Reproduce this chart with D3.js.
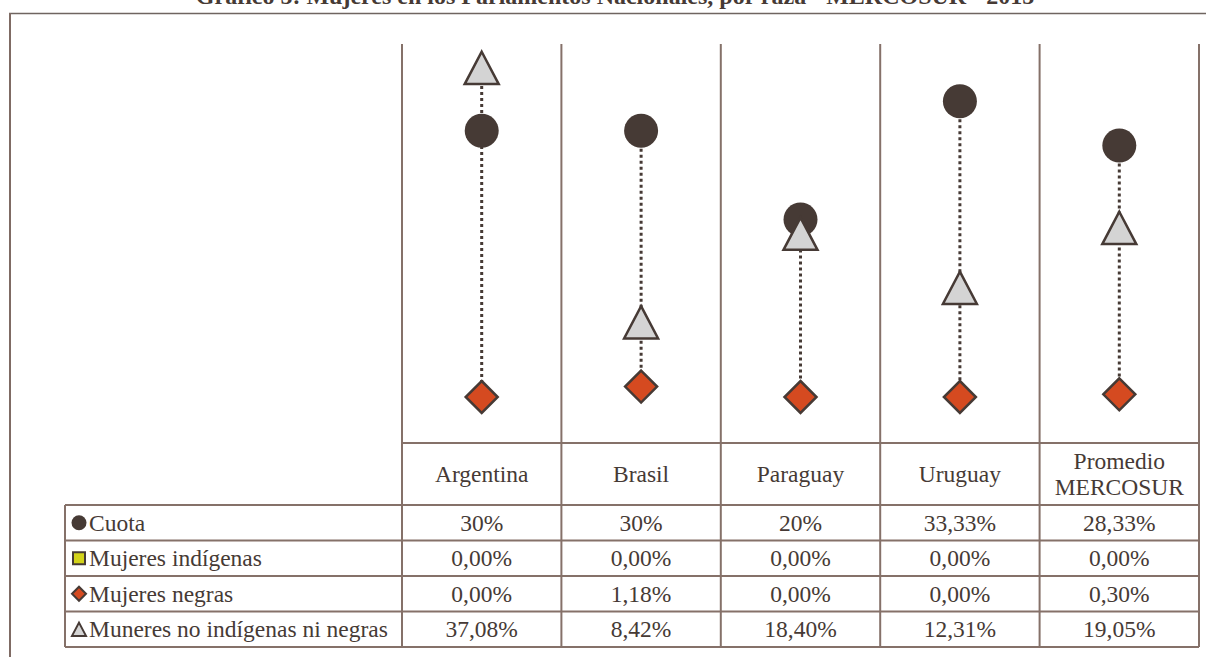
<!DOCTYPE html>
<html>
<head>
<meta charset="utf-8">
<script src="https://cdn.jsdelivr.net/npm/d3@7"></script>
<style>
  body { margin: 0; background: #fff; }
</style>
</head>
<body>
<div id="chart"></div>
<script>
  "use strict";

  // categories and series (percent)
  var countries = ["Argentina", "Brasil", "Paraguay", "Uruguay", "Promedio MERCOSUR"];
  var cuota = [30, 30, 20, 33.33, 28.33];
  var indigenas = [0, 0, 0, 0, 0];
  var negras = [0, 1.18, 0, 0, 0.30];
  var noIndNiNeg = [37.08, 8.42, 18.40, 12.31, 19.05];

  // table labels as printed
  var cuotaLabels = ["30%", "30%", "20%", "33,33%", "28,33%"];
  var indigenasLabels = ["0,00%", "0,00%", "0,00%", "0,00%", "0,00%"];
  var negrasLabels = ["0,00%", "1,18%", "0,00%", "0,00%", "0,30%"];
  var noIndNiNegLabels = ["37,08%", "8,42%", "18,40%", "12,31%", "19,05%"];

  var width = 1206, height = 657;
  var dark = "#463a35", grid = "#857169";
  var serif = "'Liberation Serif', 'Times New Roman', Tinos, serif";
  var fs = "23.5px";

  var svg = d3.select("#chart").append("svg")
      .attr("width", width).attr("height", height);

  function label(xx, yy, txt, anchor) {
    return svg.append("text")
        .attr("x", xx).attr("y", yy).attr("dy", "0.35em")
        .attr("text-anchor", anchor || "middle")
        .attr("font-family", serif).attr("font-size", fs)
        .attr("fill", dark)
        .text(txt);
  }

  // title, cut by the page top as in the source
  svg.append("text")
      .attr("x", 615).attr("y", 4)
      .attr("text-anchor", "middle")
      .attr("font-family", serif).attr("font-weight", "bold").attr("font-size", "24px")
      .attr("fill", dark)
      .text("Gráfico 5: Mujeres en los Parlamentos Nacionales, por raza - MERCOSUR - 2015");

  // outer frame
  svg.append("line").attr("x1", 9).attr("x2", width).attr("y1", 13.5).attr("y2", 13.5)
      .attr("stroke", "#6f6560").attr("stroke-width", 1.5);
  svg.append("line").attr("x1", 10).attr("x2", 10).attr("y1", 13).attr("y2", height)
      .attr("stroke", "#7f6b64").attr("stroke-width", 2);

  var x = d3.scaleBand().domain(countries).range([402, 1199]).padding(0);
  var y = d3.scaleLinear().domain([0, 40]).range([397, 42]);

  var plotTop = 44, headTop = 443, tableTop = 505, rowH = 35.5, legendLeft = 65;
  var tableBottom = tableTop + rowH * 4;

  // vertical gridlines (column boundaries)
  var bounds = countries.map(function (c) { return x(c); }).concat([x.range()[1]]);
  svg.selectAll("line.grid").data(bounds).enter().append("line")
      .attr("class", "grid")
      .attr("x1", function (d) { return d; }).attr("x2", function (d) { return d; })
      .attr("y1", plotTop).attr("y2", tableBottom)
      .attr("stroke", grid).attr("stroke-width", 2);

  // table horizontal lines
  svg.append("line").attr("x1", 402).attr("x2", 1199).attr("y1", headTop).attr("y2", headTop)
      .attr("stroke", grid).attr("stroke-width", 2);
  d3.range(5).forEach(function (i) {
    var yy = tableTop + i * rowH;
    svg.append("line").attr("x1", legendLeft).attr("x2", 1199).attr("y1", yy).attr("y2", yy)
        .attr("stroke", grid).attr("stroke-width", 2);
  });
  svg.append("line").attr("x1", legendLeft).attr("x2", legendLeft)
      .attr("y1", tableTop).attr("y2", tableBottom)
      .attr("stroke", grid).attr("stroke-width", 2);

  // header labels
  countries.forEach(function (c) {
    var words = c === "Promedio MERCOSUR" ? ["Promedio", "MERCOSUR"] : [c];
    var cy = (headTop + tableTop) / 2;
    words.forEach(function (w, i) {
      label(x(c) + x.bandwidth() / 2, cy + (i - (words.length - 1) / 2) * 26, w);
    });
  });

  // marker shapes
  function triPath(s) {
    var w = s, h = s * 0.95;
    return "M0," + (-h / 2) + "L" + (w / 2) + "," + (h / 2) + "L" + (-w / 2) + "," + (h / 2) + "Z";
  }
  function diaPath(s) {
    var r = s / 2;
    return "M0," + (-r) + "L" + r + ",0L0," + r + "L" + (-r) + ",0Z";
  }
  function sqPath(s) {
    var r = s / 2;
    return "M" + (-r) + "," + (-r) + "H" + r + "V" + r + "H" + (-r) + "Z";
  }

  // indígenas series is 0 everywhere and has no visible marker in the plot
  var series = [
    { name: "Cuota", values: cuota, labels: cuotaLabels, kind: "circle", fill: dark, plot: true },
    { name: "Mujeres indígenas", values: indigenas, labels: indigenasLabels, kind: "square", fill: "#d3d31a", plot: false },
    { name: "Mujeres negras", values: negras, labels: negrasLabels, kind: "diamond", fill: "#d54a20", plot: true },
    { name: "Muneres no indígenas ni negras", values: noIndNiNeg, labels: noIndNiNegLabels, kind: "triangle", fill: "#d4d4d4", plot: true }
  ];

  function drawMarker(g, kind, fill, size, sw) {
    if (kind === "circle") {
      g.append("circle").attr("r", size / 2).attr("fill", fill);
    } else {
      var p = kind === "triangle" ? triPath(size) : kind === "diamond" ? diaPath(size) : sqPath(size);
      g.append("path").attr("d", p).attr("fill", fill)
          .attr("stroke", dark).attr("stroke-width", sw).attr("stroke-linejoin", "miter");
    }
  }

  // dotted high-low lines
  countries.forEach(function (c, i) {
    var vals = series.filter(function (s) { return s.plot; }).map(function (s) { return s.values[i]; });
    svg.append("line")
        .attr("x1", x(c) + x.bandwidth() / 2).attr("x2", x(c) + x.bandwidth() / 2)
        .attr("y1", y(d3.max(vals))).attr("y2", y(d3.min(vals)))
        .attr("stroke", dark).attr("stroke-width", 3).attr("stroke-dasharray", "3,3");
  });

  // markers: circle, diamond, triangle on top
  ["circle", "diamond", "triangle"].forEach(function (k) {
    var s = series.filter(function (d) { return d.kind === k; })[0];
    countries.forEach(function (c, i) {
      var g = svg.append("g")
          .attr("transform", "translate(" + (x(c) + x.bandwidth() / 2) + "," + y(s.values[i]) + ")");
      var sz = k === "diamond" ? 32 : 34;
      drawMarker(g, k, s.fill, sz, 2.5);
    });
  });

  // table rows: legend + values
  series.forEach(function (s, r) {
    var cy = tableTop + rowH * r + rowH / 2;
    var g = svg.append("g").attr("transform", "translate(79," + cy + ")");
    var legSize = s.kind === "circle" ? 15 : s.kind === "square" ? 12 : 14;
    drawMarker(g, s.kind, s.fill, legSize, 2);
    label(89, cy, s.name, "start");
    countries.forEach(function (c, i) {
      label(x(c) + x.bandwidth() / 2, cy, s.labels[i]);
    });
  });
</script>
</body>
</html>
